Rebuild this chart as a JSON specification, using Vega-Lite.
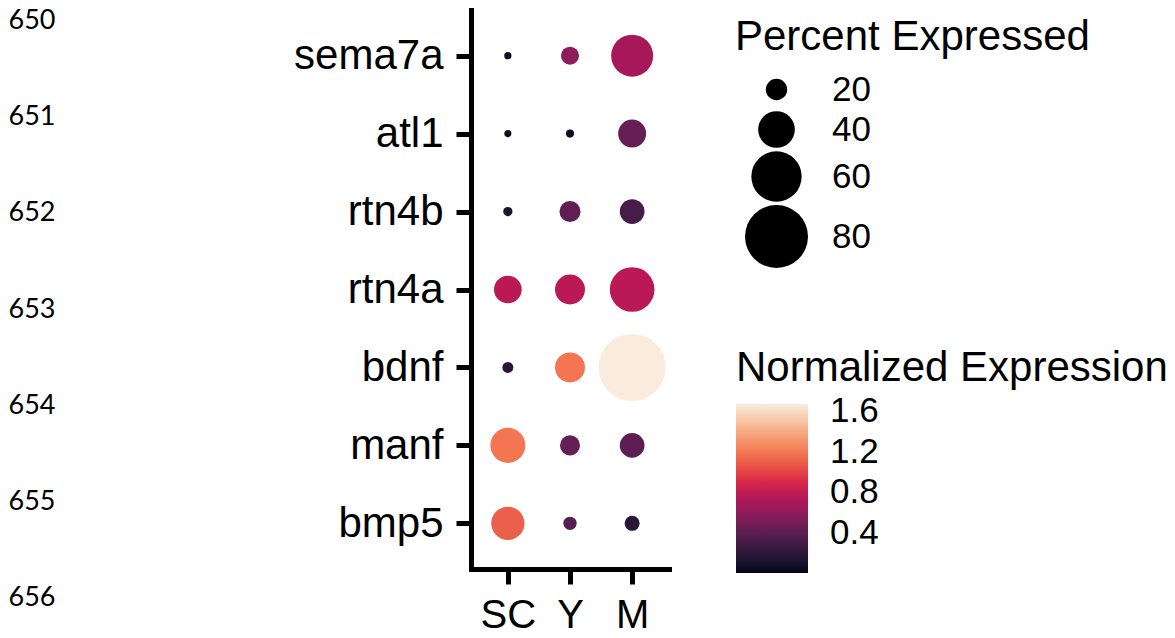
{
  "$schema": "https://vega.github.io/schema/vega-lite/v6.json",
  "padding": {"left": 8, "top": 6, "right": 0, "bottom": 0},
  "background": "white",
  "config": {
    "view": {"stroke": null},
    "font": "Liberation Sans",
    "concat": {"spacing": 237},
    "axis": {"grid": false, "domainColor": "black", "domainWidth": 5, "domainCap": "square", "tickColor": "black", "tickWidth": 5, "tickSize": 15, "labelColor": "black", "labelFont": "Liberation Sans", "title": null},
    "legend": {"titleFont": "Liberation Sans", "titleFontWeight": "normal", "titleColor": "black", "titleFontSize": 42, "titleLimit": 1000, "labelLimit": 500, "labelFont": "Liberation Sans", "labelFontSize": 35, "labelColor": "black", "padding": 0}
  },
  "hconcat": [
    {
      "width": 48,
      "height": 630,
      "data": {"values": [{"line": 650}, {"line": 651}, {"line": 652}, {"line": 653}, {"line": 654}, {"line": 655}, {"line": 656}]},
      "mark": {"type": "text", "font": "Lato", "fontSize": 27, "align": "center", "baseline": "middle", "color": "black"},
      "encoding": {
        "y": {"field": "line", "type": "quantitative", "scale": {"domain": [649.886, 656.435], "reverse": true, "nice": false, "zero": false}, "axis": null},
        "text": {"field": "line", "type": "quantitative", "format": "d"}
      }
    },
    {
      "width": 198,
      "height": 559,
      "data": {"values": [
        {"gene": "sema7a", "group": "SC", "pct": 5.0, "expr": 0.06},
        {"gene": "sema7a", "group": "Y", "pct": 16.1, "expr": 0.59},
        {"gene": "sema7a", "group": "M", "pct": 47.6, "expr": 0.69},
        {"gene": "atl1", "group": "SC", "pct": 4.8, "expr": 0.05},
        {"gene": "atl1", "group": "Y", "pct": 5.7, "expr": 0.06},
        {"gene": "atl1", "group": "M", "pct": 28.3, "expr": 0.44},
        {"gene": "rtn4b", "group": "SC", "pct": 6.9, "expr": 0.11},
        {"gene": "rtn4b", "group": "Y", "pct": 19.6, "expr": 0.42},
        {"gene": "rtn4b", "group": "M", "pct": 24.1, "expr": 0.32},
        {"gene": "rtn4a", "group": "SC", "pct": 27.9, "expr": 0.77},
        {"gene": "rtn4a", "group": "Y", "pct": 30.9, "expr": 0.77},
        {"gene": "rtn4a", "group": "M", "pct": 51.5, "expr": 0.77},
        {"gene": "bdnf", "group": "SC", "pct": 8.5, "expr": 0.19},
        {"gene": "bdnf", "group": "Y", "pct": 30.9, "expr": 1.19},
        {"gene": "bdnf", "group": "M", "pct": 86.6, "expr": 1.67},
        {"gene": "manf", "group": "SC", "pct": 37.7, "expr": 1.19},
        {"gene": "manf", "group": "Y", "pct": 18.4, "expr": 0.44},
        {"gene": "manf", "group": "M", "pct": 24.1, "expr": 0.405},
        {"gene": "bmp5", "group": "SC", "pct": 35.3, "expr": 1.1},
        {"gene": "bmp5", "group": "Y", "pct": 10.9, "expr": 0.39},
        {"gene": "bmp5", "group": "M", "pct": 12.7, "expr": 0.186}
      ]},
      "mark": {"type": "circle", "opacity": 1},
      "encoding": {
        "x": {"field": "group", "type": "nominal", "sort": ["SC", "Y", "M"], "scale": {"type": "point", "padding": 0.593}, "axis": {"labelFontSize": 40, "labelPadding": 11, "labelAngle": 0}},
        "y": {"field": "gene", "type": "nominal", "sort": ["sema7a", "atl1", "rtn4b", "rtn4a", "bdnf", "manf", "bmp5"], "scale": {"type": "point", "padding": 0.586}, "axis": {"labelFontSize": 42, "labelPadding": 13}},
        "size": {"field": "pct", "type": "quantitative", "scale": {"type": "pow", "exponent": 1.56, "domain": [0, 80], "range": [0, 3969]}, "legend": {"title": "Percent Expressed", "values": [20, 40, 60, 80], "orient": "none", "direction": "vertical", "legendX": 727, "legendY": 7, "symbolType": "circle", "symbolFillColor": "black", "symbolStrokeWidth": 0, "symbolOffset": 10, "labelOffset": 24, "rowPadding": 3, "titlePadding": 13}},
        "color": {"field": "expr", "type": "quantitative", "scale": {"domain": [0, 0.2386, 0.4771, 0.7157, 0.9543, 1.1929, 1.4314, 1.67], "range": ["#03051a", "#35193e", "#701f57", "#ad1759", "#e13342", "#f37651", "#f6b48f", "#faebdd"]}, "legend": {"title": "Normalized Expression", "values": [0.4, 0.8, 1.2, 1.6], "orient": "none", "direction": "vertical", "legendX": 728, "legendY": 338, "gradientLength": 169, "gradientThickness": 72, "gradientStrokeWidth": 0, "labelOffset": 22, "titlePadding": 14, "format": ".1f"}}
      }
    }
  ]
}
